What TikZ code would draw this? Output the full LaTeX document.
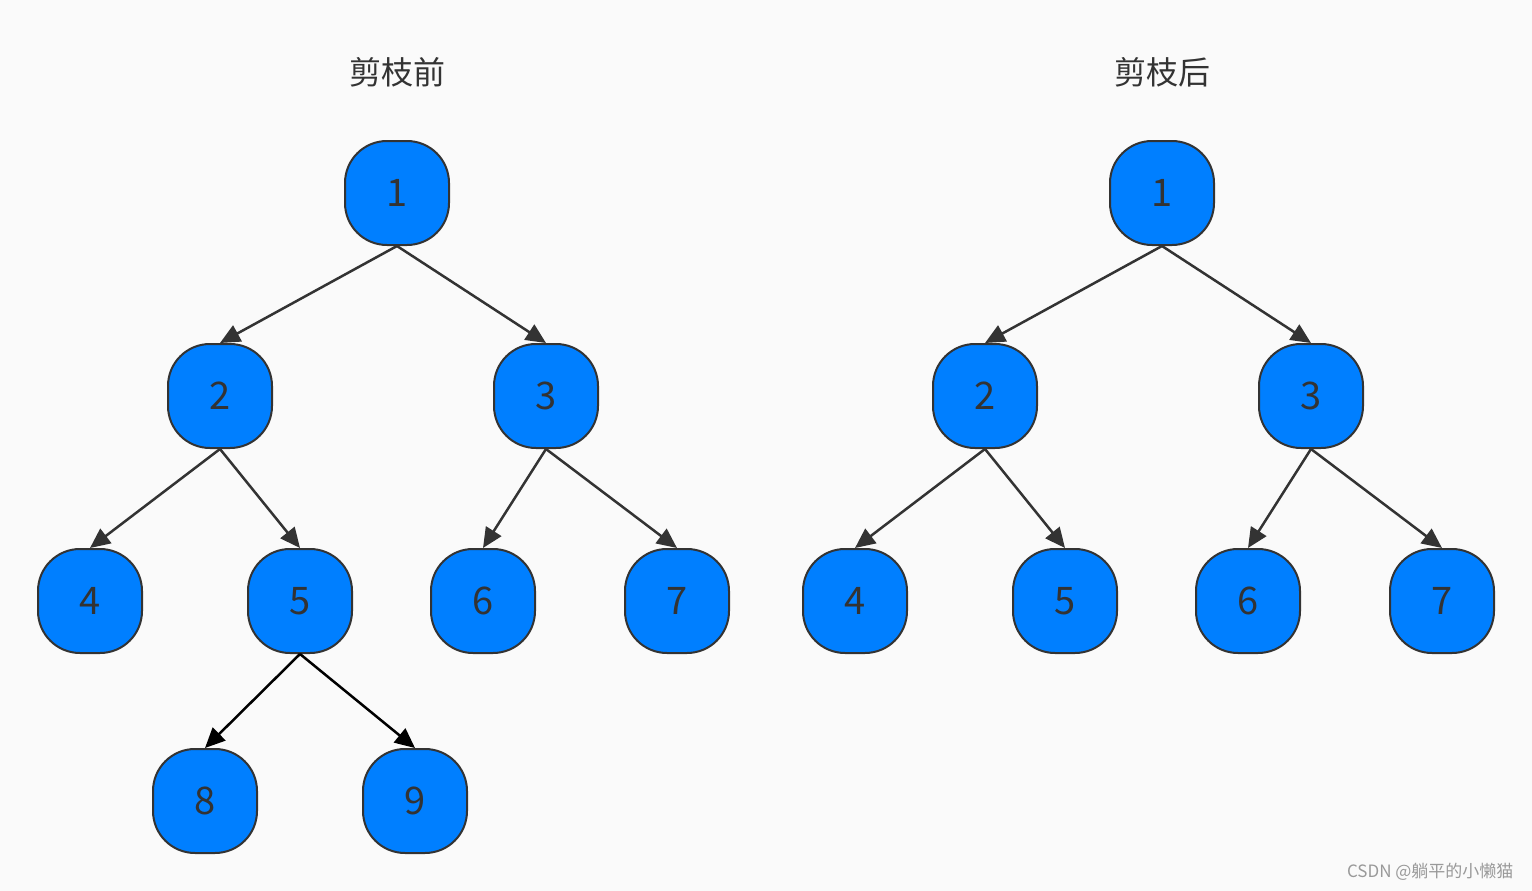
\documentclass[tikz,border=0pt]{standalone}
\usepackage{fontspec}
\setmainfont{Noto Sans CJK SC}
\usetikzlibrary{arrows.meta}
\definecolor{bg}{HTML}{FAFAFA}
\definecolor{nodeblue}{HTML}{007FFF}
\definecolor{ink}{HTML}{333333}
\begin{document}
\begin{tikzpicture}[x=1pt,y=-1pt,
  tn/.style={draw=ink,line width=2pt,fill=nodeblue,rectangle,rounded corners=42pt,minimum size=104pt,inner sep=0pt,text=ink,font=\fontsize{38}{40}\selectfont},
  ed/.style={draw=ink,line width=2.5pt,-{Triangle[length=20pt,width=18pt]}},
  edb/.style={draw=black,line width=2.5pt,-{Triangle[length=20pt,width=18pt]}},
  ttl/.style={text=ink,font=\fontsize{32}{34}\selectfont}]
\fill[bg] (0,0) rectangle (1532,891);
\useasboundingbox (0,0) rectangle (1532,891);
\node[ttl] (t1) at (397,72) {剪枝前};
\node[ttl] (t2) at (1162,72) {剪枝后};
% left tree
\node[tn] (a1) at (397,193) {1};
\node[tn] (a2) at (220,396) {2};
\node[tn] (a3) at (546,396) {3};
\node[tn] (a4) at (90,601) {4};
\node[tn] (a5) at (300,601) {5};
\node[tn] (a6) at (483,601) {6};
\node[tn] (a7) at (677,601) {7};
\node[tn] (a8) at (205,801) {8};
\node[tn] (a9) at (415,801) {9};
\draw[ed] (a1.south) -- (a2.north);
\draw[ed] (a1.south) -- (a3.north);
\draw[ed] (a2.south) -- (a4.north);
\draw[ed] (a2.south) -- (a5.north);
\draw[ed] (a3.south) -- (a6.north);
\draw[ed] (a3.south) -- (a7.north);
\draw[edb] (a5.south) -- (a8.north);
\draw[edb] (a5.south) -- (a9.north);
% right tree
\node[tn] (b1) at (1162,193) {1};
\node[tn] (b2) at (985,396) {2};
\node[tn] (b3) at (1311,396) {3};
\node[tn] (b4) at (855,601) {4};
\node[tn] (b5) at (1065,601) {5};
\node[tn] (b6) at (1248,601) {6};
\node[tn] (b7) at (1442,601) {7};
\draw[ed] (b1.south) -- (b2.north);
\draw[ed] (b1.south) -- (b3.north);
\draw[ed] (b2.south) -- (b4.north);
\draw[ed] (b2.south) -- (b5.north);
\draw[ed] (b3.south) -- (b6.north);
\draw[ed] (b3.south) -- (b7.north);
\node[anchor=east,text=gray!80,font=\fontsize{17}{18}\selectfont] (wm) at (1517,872) {CSDN @躺平的小懒猫};
\end{tikzpicture}
\end{document}
